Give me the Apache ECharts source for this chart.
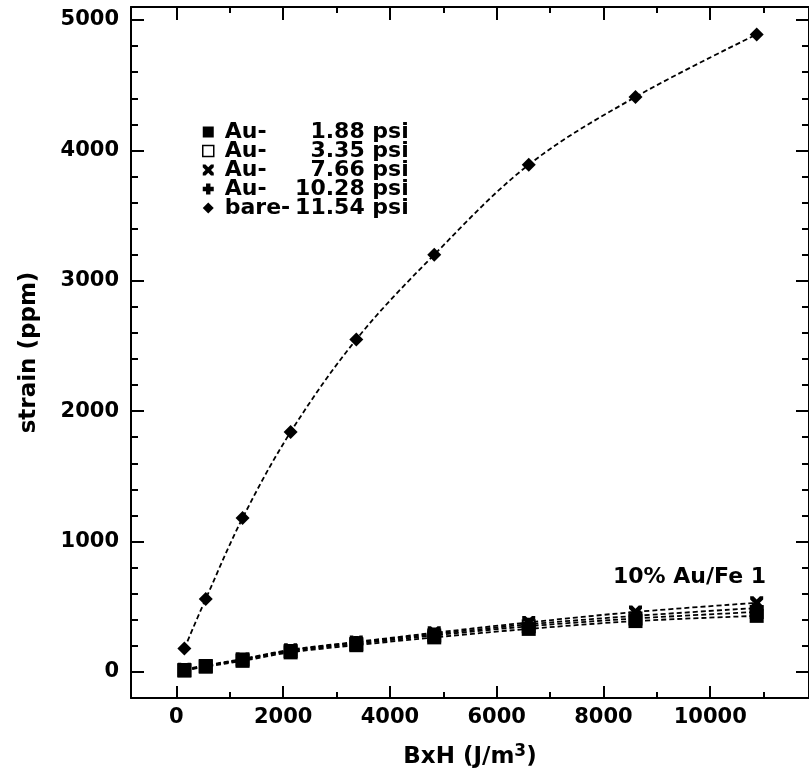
<!DOCTYPE html>
<html>
<head>
<meta charset="utf-8">
<script src="https://cdn.jsdelivr.net/npm/echarts@6/dist/echarts.min.js"></script>
<style>html,body{margin:0;padding:0;background:#fff;}#c{width:809px;height:774px;}</style>
</head>
<body>
<div id="c"></div>
<script>
// ---- data ----
var xValues = [150, 550, 1240, 2140, 3370, 4830, 6600, 8600, 10870];
var au188 = [10, 40, 85, 150, 205, 265, 330, 390, 430];
var au335 = [15, 45, 95, 160, 215, 280, 350, 410, 460];
var au766 = [20, 50, 100, 170, 230, 300, 380, 460, 530];
var au1028 = [15, 45, 95, 165, 225, 290, 365, 430, 490];
var bare1154 = [180, 560, 1180, 1840, 2550, 3200, 3890, 4410, 4890];
var seriesNames = ['Au-|1.88 psi', 'Au-|3.35 psi', 'Au-|7.66 psi', 'Au-|10.28 psi', 'bare-|11.54 psi'];
var xMajor = [0, 2000, 4000, 6000, 8000, 10000];
var xMinor = [1000, 3000, 5000, 7000, 9000, 11000];
var yMajor = [0, 1000, 2000, 3000, 4000, 5000];
var yMinor = [200,400,600,800,1200,1400,1600,1800,2200,2400,2600,2800,3200,3400,3600,3800,4200,4400,4600,4800];
var annotation = '10% Au/Fe 1';

var XMIN = -850, XMAX = 11850, YMIN = -200, YMAX = 5100;
var FONT = 'DejaVu Sans';
var XPATH = 'path://M0,0 L2.5,0 L5,2.5 L7.5,0 L10,0 L10,2.5 L7.5,5 L10,7.5 L10,10 L7.5,10 L5,7.5 L2.5,10 L0,10 L0,7.5 L2.5,5 L0,2.5 Z';
var PLUSPATH = 'path://M3,0 H7 V3 H10 V7 H7 V10 H3 V7 H0 V3 H3 Z';

function pairs(ys){ return xValues.map(function(x,i){ return [x, ys[i]]; }); }

var chart = echarts.init(document.getElementById('c'), null, {renderer:'canvas'});
var gridRect = {left:131, top:7, width:687, height:691};

function tickAxis(type, pos, vals, len, showLine){
  return {
    type:'value', position:pos, min: type==='x'?XMIN:YMIN, max: type==='x'?XMAX:YMAX,
    gridIndex: 0,
    axisLine:{show:showLine, onZero:false, lineStyle:{color:'#000', width:2}},
    axisTick:{show:true, inside:true, length:len, customValues: vals, lineStyle:{color:'#000', width:2}},
    axisLabel:{show:false},
    splitLine:{show:false}
  };
}

var symbols = ['rect', 'emptyRect', XPATH, PLUSPATH, 'diamond'];
var sizes = [14, 12, 13, 13, 14];
var dataSets = [au188, au335, au766, au1028, bare1154];

var series = dataSets.map(function(d, i){
  return {
    name: seriesNames[i], type:'line', smooth:0.35,
    xAxisIndex:0, yAxisIndex:0,
    data: pairs(d), symbol: symbols[i], symbolSize: sizes[i],
    showAllSymbol:true,
    z: i===0 ? 5 : 3,
    lineStyle:{color:'#000', width:1.8, type:[5,3]},
    itemStyle:{color:'#000', borderColor:'#000', borderWidth: i===1?1.5:0},
    emphasis:{disabled:true}
  };
});

var legendData = seriesNames.map(function(n, i){
  var it = {name:n, icon: i===1 ? 'rect' : symbols[i]};
  if (i===1) it.itemStyle = {color:'#fff', borderColor:'#000', borderWidth:1.5};
  else it.itemStyle = {color:'#000', borderWidth:0};
  return it;
});

var option = {
  animation:false,
  backgroundColor:'#fff',
  grid: [gridRect],
  legend: {
    orient:'vertical', left:197, top:116, itemGap:-3, itemWidth:11, itemHeight:11,
    data: legendData, selectedMode:false,
    formatter: function(n){ var p = n.split('|'); return '{p|'+p[0]+'}{v|'+p[1]+'}'; },
    textStyle:{
      color:'#000', fontFamily:FONT, fontWeight:'bold', fontSize:22, lineHeight:15,
      padding:[0,0,0,6],
      rich:{
        p:{fontFamily:FONT, fontWeight:'bold', fontSize:22, lineHeight:15, width:66, align:'left', color:'#000'},
        v:{fontFamily:FONT, fontWeight:'bold', fontSize:22, lineHeight:15, width:118, align:'right', color:'#000'}
      }
    }
  },
  xAxis: [
    {
      type:'value', position:'bottom', min:XMIN, max:XMAX, gridIndex:0,
      name:'BxH (J/m{s|3})', nameLocation:'middle', nameGap:45,
      nameTextStyle:{color:'#000', fontFamily:FONT, fontWeight:'bold', fontSize:23,
        rich:{s:{fontFamily:FONT, fontWeight:'bold', fontSize:17, verticalAlign:'top', padding:[0,0,12,0], color:'#000'}}},
      axisLine:{show:true, onZero:false, lineStyle:{color:'#000', width:2}},
      axisTick:{show:true, inside:true, length:12, customValues:xMajor, lineStyle:{color:'#000', width:2}},
      axisLabel:{show:true, customValues:xMajor, margin:9, color:'#000', fontFamily:FONT, fontWeight:'bold', fontSize:21,
        formatter:function(v){ return String(v); }},
      splitLine:{show:false}
    },
    tickAxis('x','bottom', xMinor, 6, false),
    tickAxis('x','top', xMajor, 13, true),
    tickAxis('x','top', xMinor, 6, false)
  ],
  yAxis: [
    {
      type:'value', position:'left', min:YMIN, max:YMAX, gridIndex:0,
      name:'strain (ppm)', nameLocation:'middle', nameGap:90, nameRotate:90,
      nameTextStyle:{color:'#000', fontFamily:FONT, fontWeight:'bold', fontSize:23},
      axisLine:{show:true, onZero:false, lineStyle:{color:'#000', width:2}},
      axisTick:{show:true, inside:true, length:13, customValues:yMajor, lineStyle:{color:'#000', width:2}},
      axisLabel:{show:true, customValues:yMajor, margin:12, color:'#000', fontFamily:FONT, fontWeight:'bold', fontSize:21,
        formatter:function(v){ return String(v); }},
      splitLine:{show:false}
    },
    tickAxis('y','left', yMinor, 7, false),
    tickAxis('y','right', yMajor, 13, true),
    tickAxis('y','right', yMinor, 7, false)
  ],
  graphic: [
    {type:'text', left:613, top:566, style:{text:annotation, fill:'#000', font:'bold 22px "DejaVu Sans"'}}
  ],
  series: series
};
chart.setOption(option);
</script>
</body>
</html>
